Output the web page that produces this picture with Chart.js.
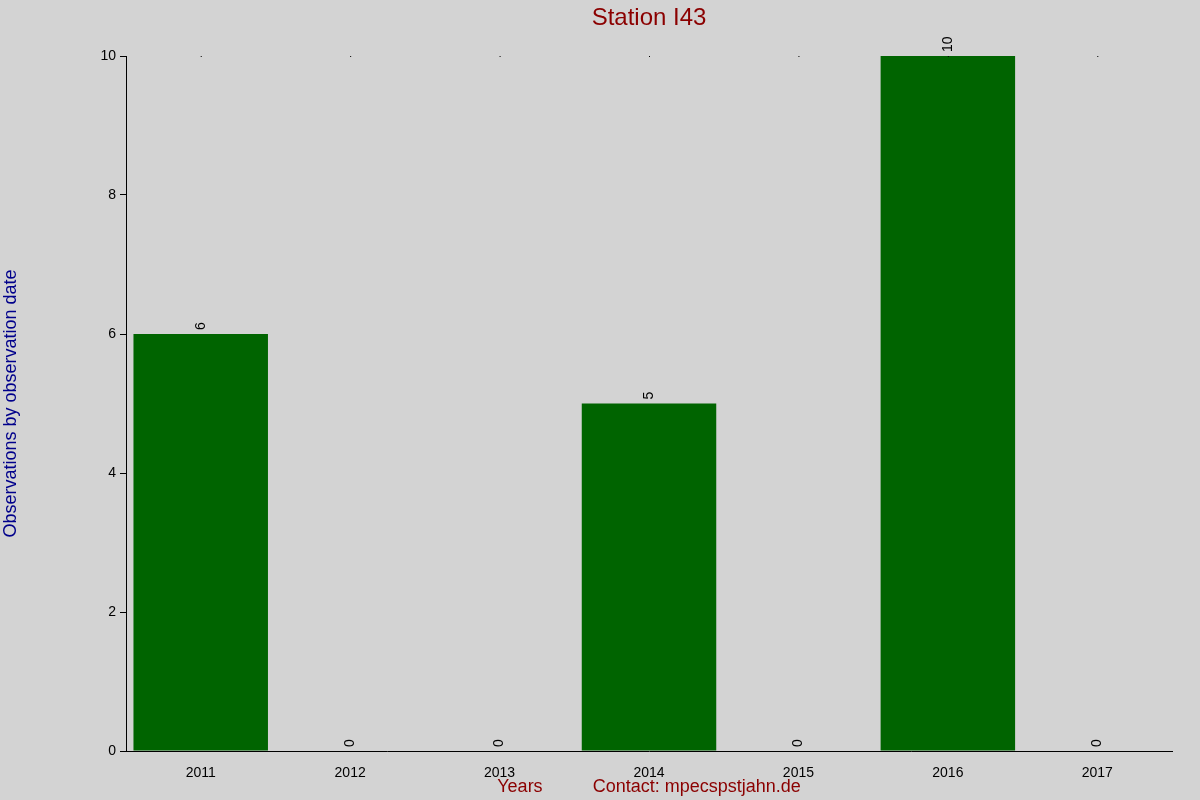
<!DOCTYPE html>
<html><head><meta charset="utf-8">
<script src="https://cdn.jsdelivr.net/npm/chart.js@4/dist/chart.umd.min.js"></script>
<style>html,body{margin:0;padding:0;background:#d3d3d3;}#wrap{width:1200px;height:800px;}</style>
</head><body><div id="wrap"><canvas id="c" width="1200" height="800"></canvas></div>
<script>
const categories = ['2011','2012','2013','2014','2015','2016','2017'];
const observations = [6,0,0,5,0,10,0];
const yTicks = [0,2,4,6,8,10];

const overlay = {
  id:'overlay',
  afterDatasetsDraw(chart){
    const ctx = chart.ctx, x = chart.scales.x, y = chart.scales.y;
    ctx.save();
    ctx.fillStyle = '#8b0000';
    ctx.font = '24px "Liberation Sans", Arial, sans-serif';
    ctx.textAlign = 'center'; ctx.textBaseline = 'middle';
    ctx.fillText('Station I43', 649, 18);
    ctx.fillStyle = '#000';
    ctx.font = '14px "Liberation Sans", Arial, sans-serif';
    observations.forEach((v,i)=>{
      const px = x.getPixelForValue(i), py = y.getPixelForValue(v);
      ctx.save();
      ctx.translate(px, py - 4);
      ctx.rotate(-Math.PI/2);
      ctx.textAlign = 'left'; ctx.textBaseline = 'middle';
      ctx.fillText(String(v), 0, 0);
      ctx.restore();
      ctx.fillRect(px, y.top, 1, 1);
    });
    ctx.restore();
  }
};

new Chart(document.getElementById('c'), {
  type:'bar',
  data:{labels:categories, datasets:[{data:observations, backgroundColor:'#006400', barPercentage:0.9, categoryPercentage:1}]},
  options:{
    responsive:false, animation:false,
    layout:{padding:{top:56,right:28,left:0,bottom:0}},
    plugins:{legend:{display:false}, tooltip:{enabled:false}},
    scales:{
      x:{
        grid:{display:false}, border:{display:true,color:'#000'},
        ticks:{color:'#000', font:{size:14,family:'"Liberation Sans", Arial, sans-serif'}, padding:6},
        title:{display:true, text:'Years          Contact: mpecspstjahn.de', color:'#8b0000', font:{size:18,family:'"Liberation Sans", Arial, sans-serif'}, padding:{top:0,bottom:2}},
        afterFit(s){ s.height = 49; }
      },
      y:{
        min:0, max:10,
        afterBuildTicks(s){ s.ticks = yTicks.map(v=>({value:v})); },
        grid:{drawOnChartArea:false, color:'#000', tickLength:6},
        border:{display:true,color:'#000'},
        ticks:{color:'#000', font:{size:14,family:'"Liberation Sans", Arial, sans-serif'}, padding:4},
        title:{display:true, text:'Observations by observation date', color:'#00008b', font:{size:18,family:'"Liberation Sans", Arial, sans-serif'}, padding:{top:0,bottom:0}},
        afterFit(s){ s.width = 126; }
      }
    }
  },
  plugins:[overlay]
});
</script></body></html>
